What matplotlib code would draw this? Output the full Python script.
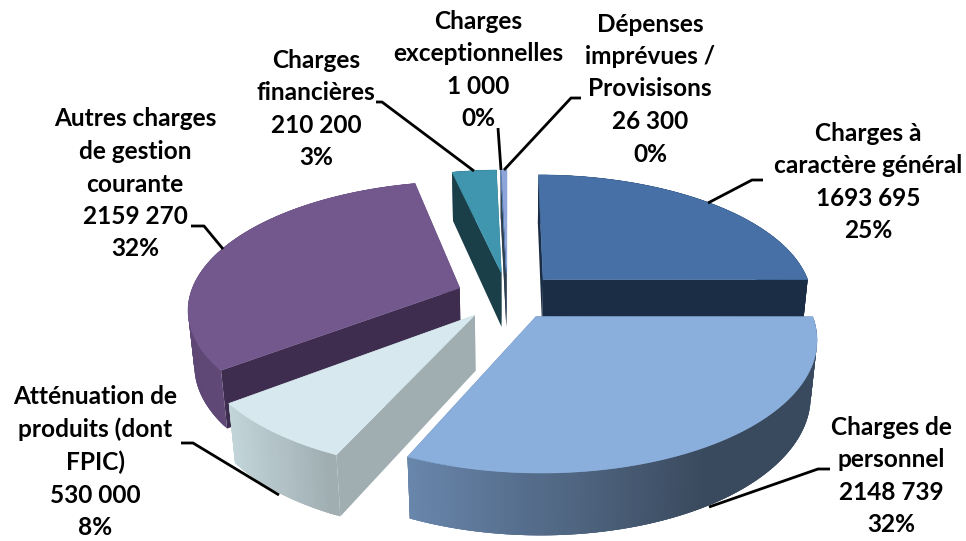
import numpy as np
import matplotlib
matplotlib.use('Agg')
import matplotlib.pyplot as plt
from matplotlib.patches import Polygon

plt.rcParams['font.family'] = ['Lato', 'DejaVu Sans']

# Valeurs du graphique
names = ["Charges à\ncaractère général", "Charges de\npersonnel",
         "Atténuation de\nproduits (dont\nFPIC)", "Autres charges\nde gestion\ncourante",
         "Charges\nfinancières", "Charges\nexceptionnelles",
         "Dépenses\nimprévues /\nProvisisons"]
values = [1693695, 2148739, 530000, 2159270, 210200, 1000, 26300]

# Couleurs : dessus, coupe, bord (gauche -> droite)
top_colors = ['#4670A6', '#8AAFDD', '#D7E9EF', '#72588C', '#3F96AE', '#5C7FB8', '#8DA5D8']
cut_colors = ['#1B2D45', '#3A4A5E', '#A0AEB2', '#3E2D4F', '#1A3F49', '#2E4050', '#56657E']
rim_left = ['#1B2D45', '#6A88AE', '#C4D7DB', '#5E4775', '#1A3F49', '#2E4050', '#56657E']
rim_right = ['#1B2D45', '#3A4A5E', '#A0AEB2', '#6A5080', '#1A3F49', '#2E4050', '#56657E']

label_x = [868, 891, 95, 135, 316, 478, 650]
label_y = [182, 476, 462, 184, 109, 70, 89]
leaders = [[(708, 203), (752, 180), (763, 180)],
           [(709, 507), (818, 469), (830, 469)],
           [(279, 495), (193, 443), (181, 443)],
           [(223, 249), (204, 226), (191, 226)],
           [(474, 171), (382, 102), (376, 102)],
           [(501, 170), (498, 128)],
           [(504, 170), (571, 98), (581, 98)]]

# Projection perspective
VX, VY = 507.5, 296
R, K, F = 270, 125.4, 6.5
H, A = 56, 0.13
EXPLODE = 0.19


def project(x, y, h):
    d = F + y + A * h
    return VX + x * R * F / d, VY + (-y * K + h * H) * F / d


def fmt_value(v):
    s = str(v)
    return s[:-3] + ' ' + s[-3:]


def mix(c1, c2, t):
    a = np.array(matplotlib.colors.to_rgb(c1))
    b = np.array(matplotlib.colors.to_rgb(c2))
    return tuple(a + (b - a) * t)


def draw_slice(ax, i, t0, t1):
    mid = (t0 + t1) / 2
    ax0, ay0 = EXPLODE * np.sin(mid), EXPLODE * np.cos(mid)
    n = max(3, int(np.degrees(t1 - t0) * 1.5))
    ts = np.linspace(t0, t1, n)
    xs = ax0 + np.sin(ts)
    ys = ay0 + np.cos(ts)
    faces = []
    # coupes radiales
    for xe, ye in ((xs[0], ys[0]), (xs[-1], ys[-1])):
        quad = [project(ax0, ay0, 0), project(xe, ye, 0), project(xe, ye, 1), project(ax0, ay0, 1)]
        faces.append(((ay0 + ye) / 2, quad, cut_colors[i]))
    # bord exterieur, quads qui se chevauchent pour eviter les raies
    sx = project(xs, ys, 0)[0]
    lo, hi = sx.min(), min(sx.max(), sx.min() + 300)
    for j in range(n - 1):
        k = min(j + 3, n - 1)
        quad = [project(xs[j], ys[j], 0)]
        quad += [project(xs[m], ys[m], 0) for m in range(j + 1, k + 1)]
        quad += [project(xs[m], ys[m], 1) for m in range(k, j - 1, -1)]
        t = np.clip((sx[j] - lo) / max(hi - lo, 1), 0, 1)
        faces.append(((ys[j] + ys[j + 1]) / 2, quad, mix(rim_left[i], rim_right[i], t)))
    faces.sort(key=lambda f: -f[0])
    for _, quad, col in faces:
        ax.add_patch(Polygon(quad, closed=True, fc=col, ec='none', lw=0))
    top = [project(ax0, ay0, 0)] + [project(x, y, 0) for x, y in zip(xs, ys)]
    ax.add_patch(Polygon(top, closed=True, fc=top_colors[i], ec=top_colors[i], lw=0.4))


fig = plt.figure(figsize=(9.66, 5.41), dpi=100)
ax = fig.add_axes([0, 0, 1, 1])
ax.set_xlim(0, 966)
ax.set_ylim(541, 0)
ax.axis('off')

total = sum(values)
edges = np.concatenate([[0], np.cumsum(values)]) / total * 2 * np.pi

# de l'arriere vers l'avant
for i in [0, 6, 5, 4, 3, 2, 1]:
    draw_slice(ax, i, edges[i], edges[i + 1])

for pts in leaders:
    ax.plot([p[0] for p in pts], [p[1] for p in pts], color='black', lw=2, solid_capstyle='butt')

for i in range(len(values)):
    pct = round(100 * values[i] / total)
    txt = f"{names[i]}\n{fmt_value(values[i])}\n{pct}%"
    ax.text(label_x[i], label_y[i], txt, ha='center', va='center', fontsize=17.6,
            fontweight='bold', color='black', linespacing=1.5)

fig.savefig('out.png', dpi=100)
